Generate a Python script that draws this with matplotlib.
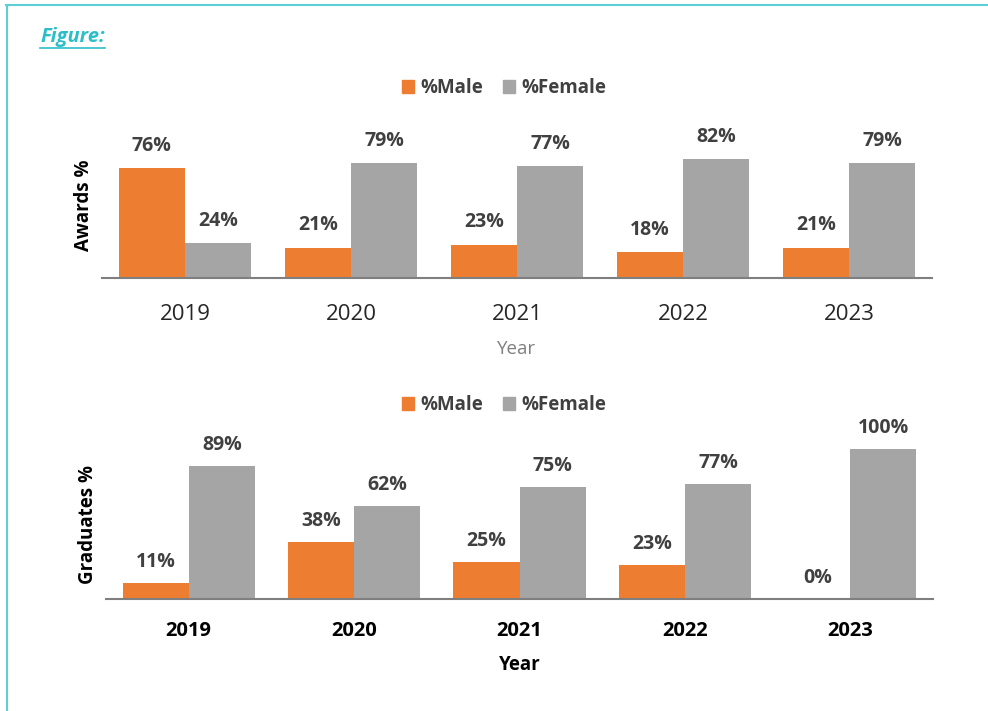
import matplotlib.pyplot as plt
import numpy as np
from matplotlib.patches import Patch
from matplotlib.lines import Line2D

plt.rcParams['font.family'] = ['Open Sans', 'DejaVu Sans']

# data
years = ['2019', '2020', '2021', '2022', '2023']
awards_male = [76, 21, 23, 18, 21]
awards_female = [24, 79, 77, 82, 79]
grad_male = [11, 38, 25, 23, 0]
grad_female = [89, 62, 75, 77, 100]

orange = '#ED7D31'
grey = '#A5A5A5'
lab_col = '#404040'
teal = '#2BBEC8'

W, H = 988, 711
fig = plt.figure(figsize=(W / 100, H / 100), dpi=100)

# frame lines (top and left only)
fig.add_artist(Line2D([6 / W, 1], [1 - 5 / H, 1 - 5 / H], color='#5CCFD6', lw=1.5))
fig.add_artist(Line2D([7 / W, 7 / W], [0, 1 - 5 / H], color='#5CCFD6', lw=1.5))

# title with underline
t = fig.text(40 / W, 1 - 37 / H, 'Figure:', color=teal, fontsize=14.5, fontweight='bold',
             fontstyle='italic', va='center', ha='left')
fig.canvas.draw()
bb = t.get_window_extent()
fig.add_artist(Line2D([bb.x0 / W, bb.x1 / W], [(H - 48) / H, (H - 48) / H], color=teal, lw=1.2))

x = np.arange(len(years))
w = 0.4


def draw(ax, male, female, ylabel, tick_bold, year_col, year_bold, lab_off, tpad, ypad):
    ax.bar(x - w / 2, male, w, color=orange)
    ax.bar(x + w / 2, female, w, color=grey)
    for xi, v in zip(x - w / 2, male):
        ax.annotate(f'{v}%', (xi, v), xytext=(0, lab_off), textcoords='offset points',
                    ha='center', va='center', fontsize=14, fontweight='bold',
                    color=lab_col, annotation_clip=False)
    for xi, v in zip(x + w / 2, female):
        ax.annotate(f'{v}%', (xi, v), xytext=(0, lab_off), textcoords='offset points',
                    ha='center', va='center', fontsize=14, fontweight='bold',
                    color=lab_col, annotation_clip=False)
    ax.set_xlim(-0.5, len(years) - 0.5)
    ax.set_ylim(0, 100)
    ax.set_xticks(x)
    ax.set_xticklabels(years, fontsize=16 if not tick_bold else 14.5,
                       fontweight='bold' if tick_bold else 'normal', color='#262626' if not tick_bold else 'black')
    ax.set_yticks([])
    ax.tick_params(axis='x', length=0, pad=tpad)
    for s in ['top', 'right', 'left']:
        ax.spines[s].set_visible(False)
    ax.spines['bottom'].set_color('#7F7F7F')
    ax.spines['bottom'].set_linewidth(1.5)
    ax.set_ylabel(ylabel, fontsize=13.5, fontweight='bold', color='black', labelpad=6)
    ax.set_xlabel('Year', fontsize=13.5, color=year_col,
                  fontweight='bold' if year_bold else 'normal', labelpad=ypad)


ax1 = fig.add_axes([102 / W, 1 - 278 / H, 830 / W, 145 / H])
draw(ax1, awards_male, awards_female, 'Awards %', False, '#7F7F7F', False, 16, 18.5, 11)

ax2 = fig.add_axes([106 / W, 1 - 599 / H, 827 / W, 150 / H])
draw(ax2, grad_male, grad_female, 'Graduates %', True, 'black', True, 15, 16, 10)

handles = [Patch(color=orange, label='%Male'), Patch(color=grey, label='%Female')]
for ycen in [88, 405]:
    lg = fig.legend(handles=handles, loc='center', bbox_to_anchor=(504 / W, 1 - ycen / H),
                    ncol=2, frameon=False, handlelength=0.65, handleheight=0.65,
                    handletextpad=0.3, columnspacing=1.1,
                    prop={'size': 13.5, 'weight': 'bold'})
    for txt in lg.get_texts():
        txt.set_color(lab_col)

fig.savefig('out.png', dpi=100)
